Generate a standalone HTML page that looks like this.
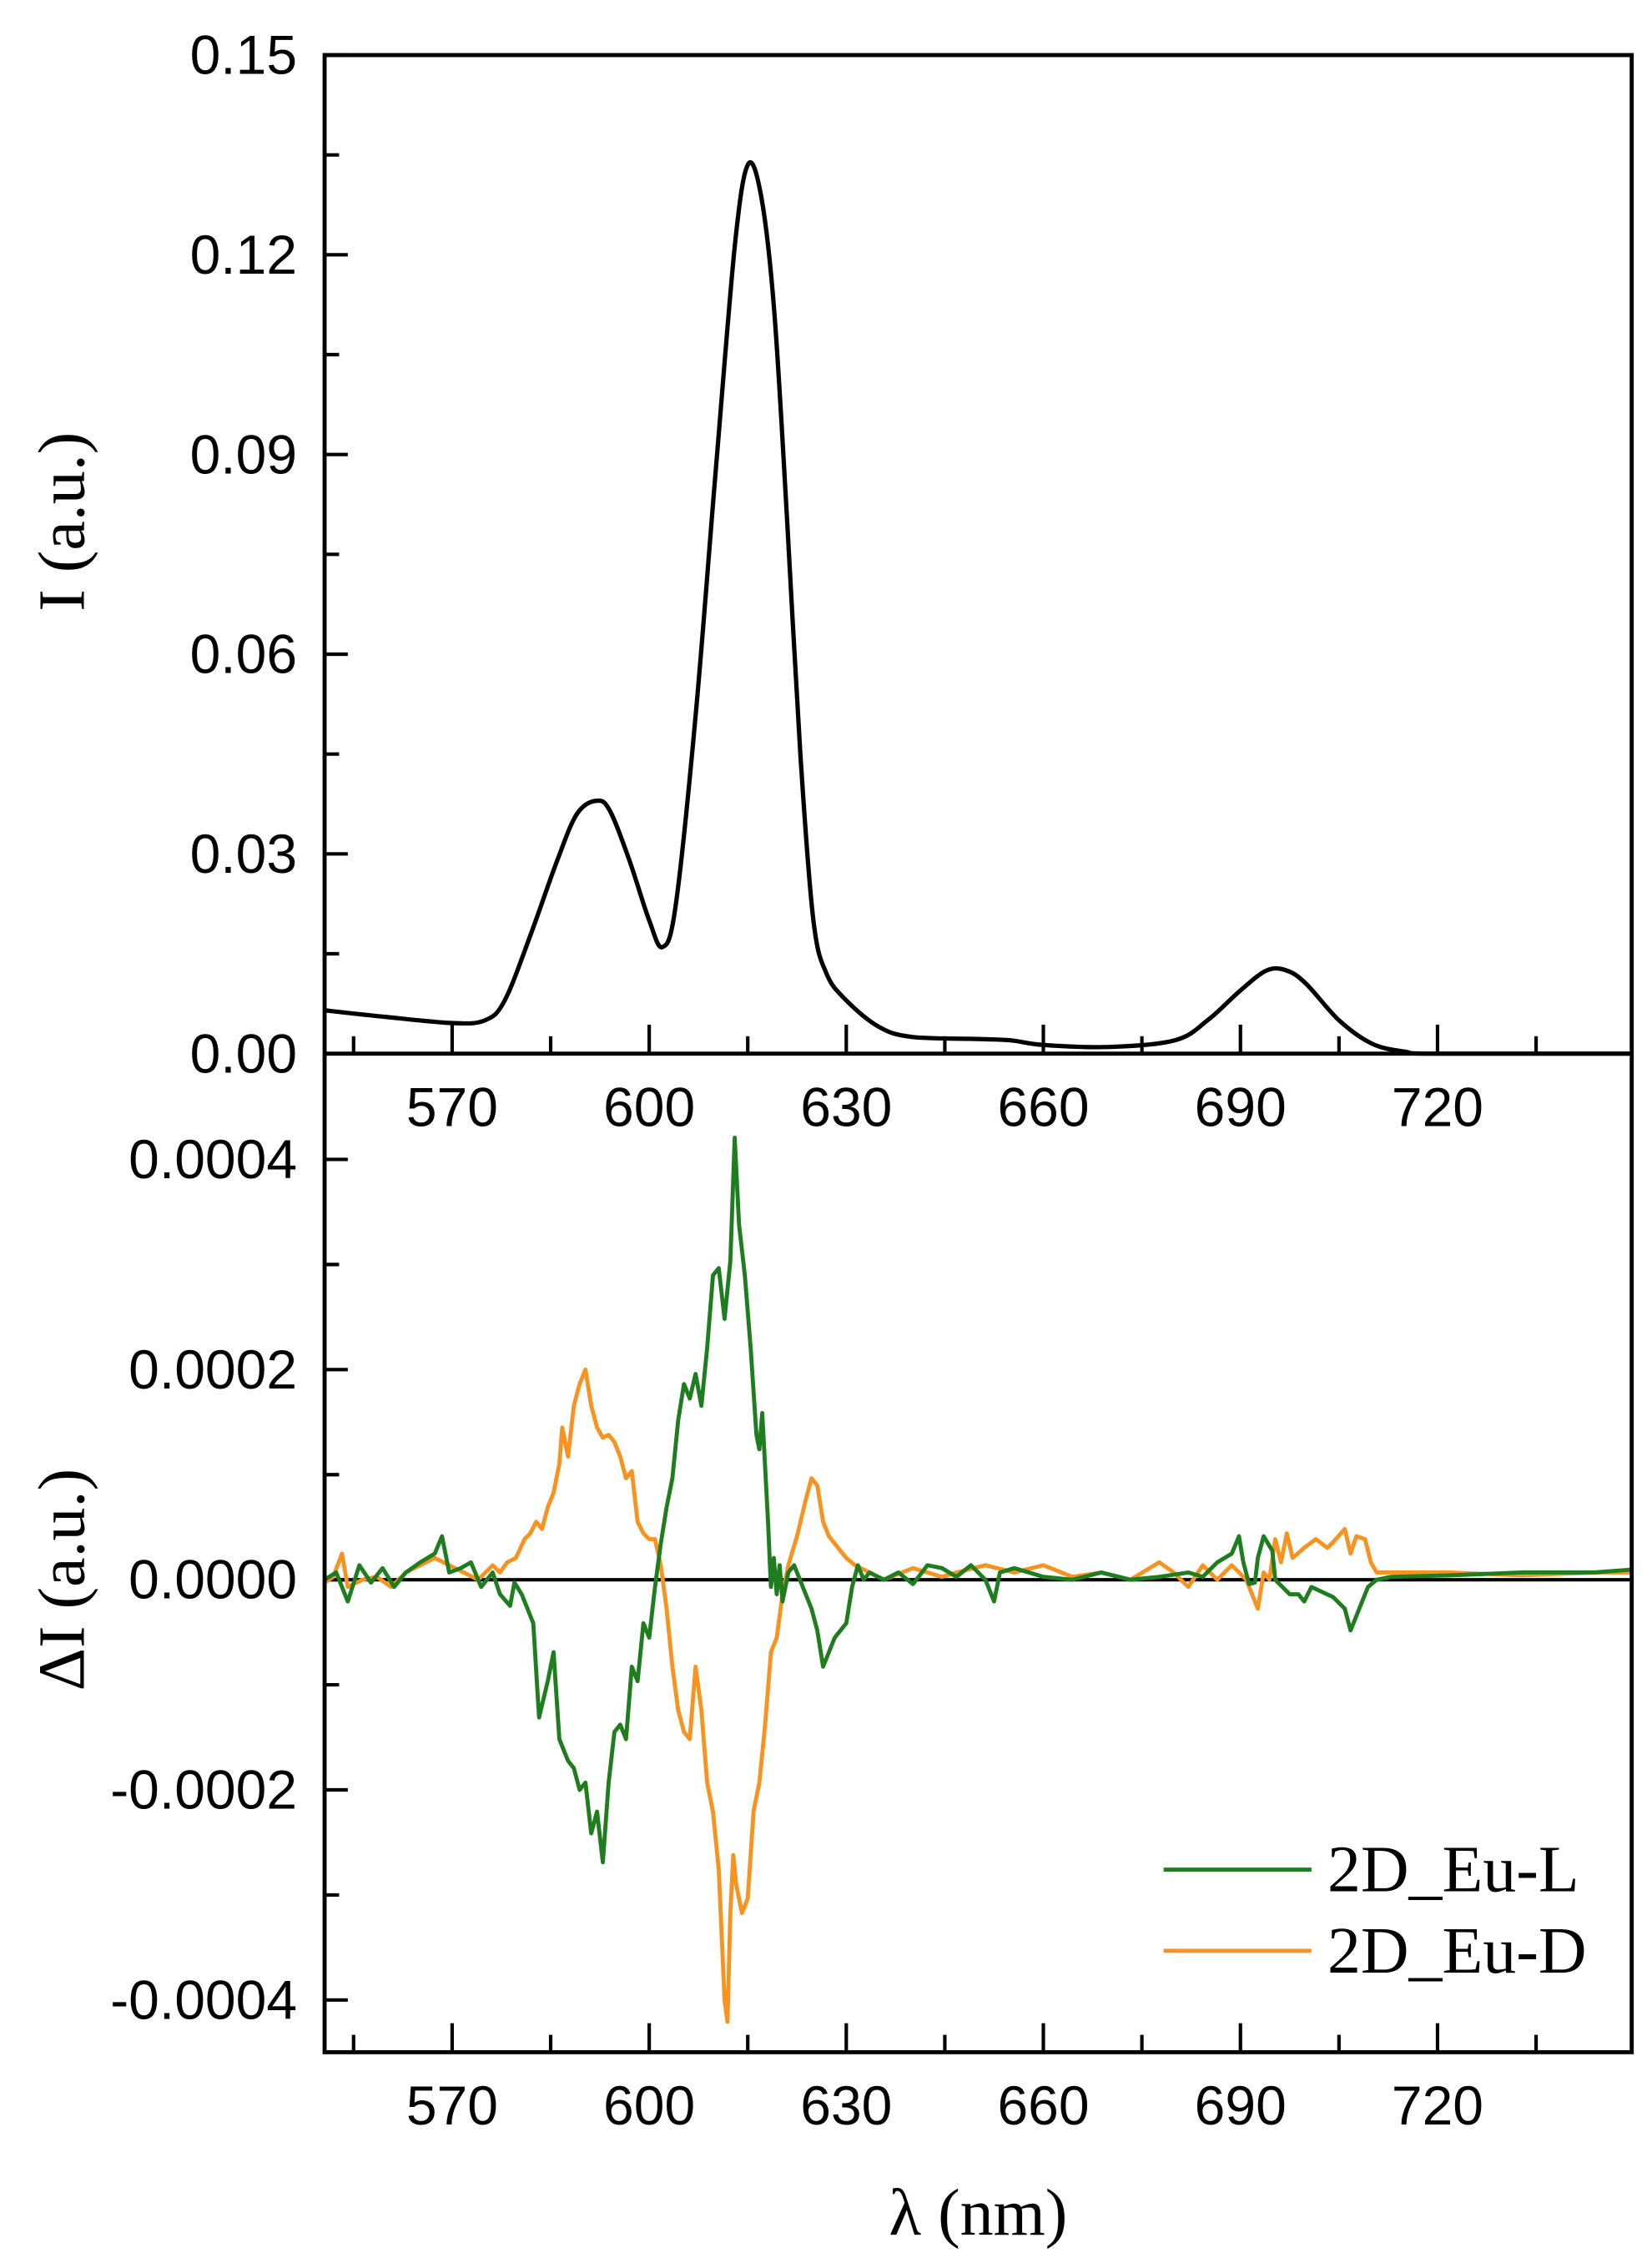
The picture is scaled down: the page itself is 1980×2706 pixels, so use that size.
<!DOCTYPE html>
<html><head><meta charset="utf-8"><style>html,body{margin:0;padding:0;background:#fff}svg{display:block}</style></head>
<body>
<svg id="s" width="1980" height="2706" viewBox="0 0 1140 1558" preserveAspectRatio="none" xmlns="http://www.w3.org/2000/svg">
<rect width="1140" height="1558" fill="#fff"/>
<g id="ticks" stroke="#000" stroke-width="2.4"></g>
<g font-family="Liberation Sans, sans-serif" font-size="38" fill="#000" id="labels"></g>
<path id="top" fill="none" stroke="#000" stroke-width="3" stroke-linejoin="round"/>
<line x1="224" y1="1090" x2="1126" y2="1090" stroke="#000" stroke-width="2.4"/>
<polyline id="orange" fill="none" stroke="#f7931e" stroke-width="2.8" stroke-linejoin="round" points="224,1092 230,1088 236,1072 240,1095 250,1090 260,1088 270,1095 280,1085 290,1080 300,1075 310,1080 320,1085 330,1090 340,1080 345,1085 350,1078 356,1075 362,1062 366,1058 370,1050 374,1055 378,1040 382,1030 386,1010 388,985 392,1005 396,970 400,955 404,945 408,970 412,985 416,992 420,990 424,995 428,1005 432,1020 436,1015 440,1050 444,1058 448,1062 452,1062 456,1080 460,1110 464,1150 468,1180 472,1195 476,1200 480,1150 484,1180 488,1230 492,1250 496,1290 500,1380 502,1395 504,1320 506,1280 508,1300 512,1320 516,1310 520,1250 524,1230 528,1190 532,1140 536,1130 540,1100 544,1080 550,1060 556,1035 560,1020 564,1025 568,1050 572,1060 576,1065 580,1070 584,1075 590,1080 600,1085 610,1090 630,1082 650,1088 660,1085 680,1080 700,1085 720,1080 740,1088 760,1085 780,1090 800,1078 810,1085 820,1095 830,1080 840,1090 850,1080 860,1090 868,1110 872,1085 876,1090 880,1062 884,1078 888,1058 892,1075 900,1068 908,1062 916,1068 920,1064 928,1055 932,1072 936,1060 942,1062 946,1078 950,1085 960,1085 1000,1085 1050,1087 1100,1085 1126,1085"/>
<polyline id="green" fill="none" stroke="#1e7d1e" stroke-width="2.8" stroke-linejoin="round" points="224,1090 232,1085 240,1105 248,1080 256,1092 264,1082 272,1095 280,1085 290,1078 300,1072 305,1060 310,1085 318,1082 325,1078 332,1095 340,1085 345,1100 352,1108 355,1092 360,1100 368,1120 372,1185 378,1160 382,1140 386,1200 392,1215 396,1220 400,1235 404,1230 408,1265 412,1250 416,1285 420,1230 424,1195 428,1190 432,1200 436,1150 440,1160 444,1120 448,1130 452,1095 456,1065 460,1040 464,1020 468,980 472,955 476,965 480,948 484,970 488,930 492,880 496,875 500,910 504,870 507,785 510,845 514,880 518,930 522,990 524,1000 526,975 530,1050 532,1095 534,1075 536,1100 538,1080 540,1105 544,1085 548,1080 552,1090 556,1100 560,1110 564,1125 568,1150 572,1140 576,1130 580,1125 584,1120 588,1095 592,1080 596,1090 600,1085 610,1090 620,1085 630,1093 640,1080 650,1082 660,1088 670,1080 680,1090 686,1105 690,1085 700,1082 720,1088 740,1090 760,1085 780,1090 800,1088 820,1085 830,1088 840,1078 845,1075 850,1072 855,1060 858,1078 862,1093 866,1092 868,1075 872,1060 878,1070 880,1090 890,1100 896,1100 900,1105 905,1095 920,1102 928,1110 932,1125 936,1115 940,1105 944,1095 950,1090 960,1088 1000,1087 1050,1085 1100,1085 1126,1083"/>
<rect x="224" y="38" width="902" height="1378" fill="none" stroke="#000" stroke-width="2.8"/>
<line x1="224" y1="727" x2="1126" y2="727" stroke="#000" stroke-width="2.8"/>
<line x1="803" y1="1290" x2="905" y2="1290" stroke="#1e7d1e" stroke-width="2.8"/>
<line x1="803" y1="1346" x2="905" y2="1346" stroke="#f7931e" stroke-width="2.8"/>
<g font-family="Liberation Serif, serif" font-size="46" fill="#000">
<text x="916" y="1305">2D_Eu-L</text>
<text x="916" y="1361">2D_Eu-D</text>
<text x="675" y="1542" text-anchor="middle">λ (nm)</text>
<text transform="translate(58,360) rotate(-90)" text-anchor="middle">I (a.u.)</text>
<text transform="translate(58,1090) rotate(-90)" text-anchor="middle">ΔI (a.u.)</text>
</g>
</svg>
<script>
var NS="http://www.w3.org/2000/svg";
function X(l){return 312+(l-570)*136/30;}
function el(p,n,a,t){var e=document.createElementNS(NS,n);for(var k in a)e.setAttribute(k,a[k]);if(t)e.textContent=t;p.appendChild(e);}
var tk=document.getElementById('ticks'),lb=document.getElementById('labels');
for(var l=555;l<=750;l+=15){var x=X(l);if(x<226||x>1124)continue;var maj=(l%30==0);var L=maj?20:12;
 el(tk,'line',{x1:x,y1:727,x2:x,y2:727-L});el(tk,'line',{x1:x,y1:1416,x2:x,y2:1416-L});
 if(maj){el(lb,'text',{x:x,y:777,'text-anchor':'middle'},String(l));el(lb,'text',{x:x,y:1466,'text-anchor':'middle'},String(l));}}
var tl=['0.00','0.03','0.06','0.09','0.12','0.15'];
for(var i=0;i<=10;i++){var y=727-i*689/10;var maj=i%2==0;el(tk,'line',{x1:224,y1:y,x2:224+(maj?16:10),y2:y});
 if(maj)el(lb,'text',{x:205,y:y+13,'text-anchor':'end'},tl[i/2]);}
var bl={'-4':'-0.0004','-2':'-0.0002','0':'0.0000','2':'0.0002','4':'0.0004'};
for(var k=-4;k<=4;k++){var y=1090-k*72.5;var maj=k%2==0;el(tk,'line',{x1:224,y1:y,x2:224+(maj?16:10),y2:y});
 if(maj)el(lb,'text',{x:205,y:y+13,'text-anchor':'end'},bl[String(k)]);}
var d=[[550.6,.0065],[560,.0055],[570,.0046],[575,.005],[578,.008],[582,.018],[586,.029],[589,.036],[592,.038],[594,.0365],[597,.029],[600,.02],[602,.016],[604,.022],[607,.05],[610,.086],[613,.121],[615,.1335],[617,.129],[619,.112],[621,.08],[623,.045],[625,.02],[627,.012],[630,.008],[635,.004],[640,.0025],[650,.0022],[655,.002],[660,.0013],[670,.001],[680,.002],[685,.005],[690,.0095],[694,.0125],[697,.0125],[700,.0105],[705,.005],[710,.0015],[715,.0003],[720,0],[749.6,0]];
var P=d.map(function(p){return [X(p[0]),727-p[1]/0.15*689];});
var s='M'+P[0][0].toFixed(1)+','+P[0][1].toFixed(1);
for(var i=0;i<P.length-1;i++){var p0=P[Math.max(i-1,0)],p1=P[i],p2=P[i+1],p3=P[Math.min(i+2,P.length-1)];
 var c1x=p1[0]+(p2[0]-p0[0])/6,c1y=p1[1]+(p2[1]-p0[1])/6,c2x=p2[0]-(p3[0]-p1[0])/6,c2y=p2[1]-(p3[1]-p1[1])/6;
 c1y=Math.min(c1y,727);c2y=Math.min(c2y,727);
 s+=' C'+c1x.toFixed(1)+','+c1y.toFixed(1)+' '+c2x.toFixed(1)+','+c2y.toFixed(1)+' '+p2[0].toFixed(1)+','+p2[1].toFixed(1);}
document.getElementById('top').setAttribute('d',s);
</script>
</body></html>
